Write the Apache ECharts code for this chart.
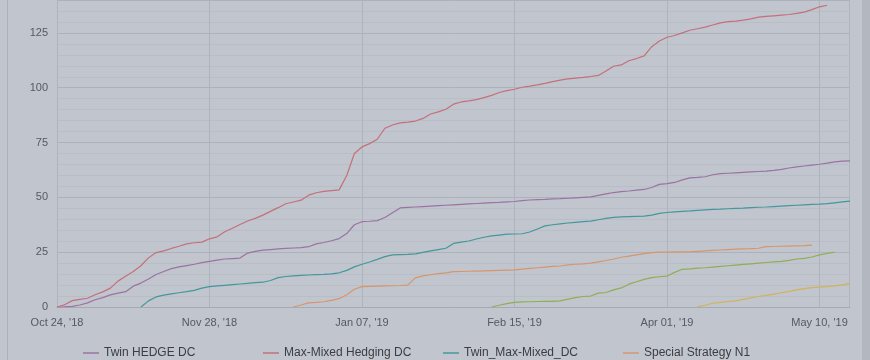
<!DOCTYPE html>
<html><head><meta charset="utf-8">
<script src="https://cdn.jsdelivr.net/npm/echarts@6/dist/echarts.min.js"></script>
<style>html,body{margin:0;padding:0;background:#c1c5cd;}#c{width:870px;height:360px;}</style>
</head><body><div id="c"></div>
<script>
const categories = [
"Oct 24, '18","Oct 26, '18","Oct 28, '18","Oct 29, '18","Oct 31, '18","Nov 02, '18","Nov 04, '18","Nov 05, '18","Nov 07, '18","Nov 09, '18",
"Nov 11, '18","Nov 12, '18","Nov 14, '18","Nov 16, '18","Nov 18, '18","Nov 19, '18","Nov 21, '18","Nov 23, '18","Nov 25, '18","Nov 26, '18",
"Nov 28, '18","Nov 30, '18","Dec 02, '18","Dec 04, '18","Dec 06, '18","Dec 08, '18","Dec 10, '18","Dec 12, '18","Dec 14, '18","Dec 16, '18",
"Dec 18, '18","Dec 20, '18","Dec 22, '18","Dec 24, '18","Dec 26, '18","Dec 28, '18","Dec 30, '18","Jan 01, '19","Jan 03, '19","Jan 05, '19",
"Jan 07, '19","Jan 09, '19","Jan 11, '19","Jan 13, '19","Jan 15, '19","Jan 17, '19","Jan 19, '19","Jan 21, '19","Jan 23, '19","Jan 25, '19",
"Jan 27, '19","Jan 28, '19","Jan 30, '19","Feb 01, '19","Feb 03, '19","Feb 05, '19","Feb 07, '19","Feb 09, '19","Feb 11, '19","Feb 13, '19",
"Feb 15, '19","Feb 17, '19","Feb 19, '19","Feb 22, '19","Feb 24, '19","Feb 26, '19","Feb 28, '19","Mar 03, '19","Mar 05, '19","Mar 07, '19",
"Mar 09, '19","Mar 12, '19","Mar 14, '19","Mar 16, '19","Mar 18, '19","Mar 21, '19","Mar 23, '19","Mar 25, '19","Mar 27, '19","Mar 30, '19",
"Apr 01, '19","Apr 03, '19","Apr 05, '19","Apr 07, '19","Apr 09, '19","Apr 11, '19","Apr 13, '19","Apr 15, '19","Apr 17, '19","Apr 19, '19",
"Apr 21, '19","Apr 22, '19","Apr 24, '19","Apr 26, '19","Apr 28, '19","Apr 30, '19","May 02, '19","May 04, '19","May 06, '19","May 08, '19",
"May 10, '19","May 12, '19","May 14, '19","May 16, '19","May 18, '19"
];
const seriesNames = ["Twin HEDGE DC","Max-Mixed Hedging DC","Twin_Max-Mixed_DC","Special Strategy N1","Special Strategy N2","Special Strategy N3"];

const twinHedge = [
0,0.1,0.3,0.9,1.9,3.3,4.3,5.5,6.3,7.0,
9.5,10.9,12.8,14.8,16.2,17.5,18.3,18.9,19.5,20.2,
20.8,21.4,21.9,22.1,22.3,24.6,25.4,25.9,26.2,26.5,
26.7,26.9,27.1,27.5,28.8,29.4,30.2,31.2,33.5,37.5,
38.9,39.1,39.4,40.8,43.0,45.2,45.4,45.6,45.8,46.0,
46.2,46.4,46.6,46.8,47.0,47.2,47.4,47.6,47.7,47.9,
48.1,48.5,48.8,49.0,49.1,49.3,49.4,49.6,49.8,50.0,
50.2,50.9,51.6,52.2,52.6,52.9,53.3,53.6,54.5,55.9,
56.3,56.8,58.0,58.9,59.1,59.4,60.3,60.8,61.0,61.2,
61.4,61.6,61.8,62.0,62.3,62.8,63.4,63.9,64.3,64.7,
65.1,65.6,66.2,66.5,66.6
];
const maxMixed = [
0,1.0,2.9,3.5,4.0,5.6,6.9,8.6,11.8,14.0,
16.2,18.8,22.4,24.8,25.6,26.7,27.7,28.8,29.3,29.6,
31.1,32.0,34.3,35.9,37.6,39.2,40.4,41.9,43.6,45.3,
47.1,47.9,48.7,51.0,52.1,52.7,53.1,53.4,60.0,70.0,
73.0,74.5,76.5,81.5,83.0,84.0,84.3,84.8,86.0,88.0,
89.0,90.2,92.5,93.5,94.0,94.6,95.5,96.5,97.8,98.7,
99.3,100.2,100.7,101.3,102.0,102.8,103.5,104.0,104.4,104.7,
105.1,105.6,107.6,109.8,110.4,112.3,113.3,114.5,118.7,121.3,
123.0,123.8,125.0,126.2,126.9,127.6,128.6,129.6,130.1,130.4,
130.8,131.4,132.2,132.5,132.8,133.1,133.4,133.9,134.5,135.6,
136.9,137.6,null,null,null
];
const twinMaxMixed = [
null,null,null,null,null,null,null,null,null,null,
null,0,2.8,4.6,5.4,6.0,6.5,7.0,7.6,8.6,
9.3,9.6,9.9,10.2,10.5,10.8,11.1,11.3,12.1,13.4,
13.9,14.2,14.4,14.6,14.8,14.9,15.1,15.6,16.7,18.3,
19.5,20.5,21.7,23.0,23.8,23.9,24.0,24.2,24.9,25.6,
26.2,26.8,29.0,29.6,30.1,31.0,31.8,32.4,32.8,33.2,
33.3,33.4,34.2,35.6,37.0,37.5,37.9,38.3,38.6,38.9,
39.2,39.8,40.4,40.9,41.1,41.2,41.3,41.4,41.9,42.7,
43.1,43.4,43.6,43.8,44.1,44.3,44.5,44.6,44.8,45.0,
45.1,45.3,45.5,45.6,45.8,46.0,46.2,46.4,46.6,46.8,
46.9,47.1,47.5,47.9,48.3
];
const specialN1 = [
null,null,null,null,null,null,null,null,null,null,
null,null,null,null,null,null,null,null,null,null,
null,null,null,null,null,null,null,null,null,null,
null,0,0.9,1.9,2.1,2.4,3.0,3.8,5.6,8.1,
9.3,9.4,9.5,9.6,9.7,9.8,10.0,13.3,14.2,14.7,
15.2,15.6,16.1,16.2,16.3,16.4,16.5,16.6,16.7,16.8,
16.9,17.3,17.6,17.9,18.2,18.5,18.7,19.2,19.5,19.7,
20.0,20.6,21.2,21.9,22.7,23.2,23.8,24.3,24.8,25.0,
25.0,25.1,25.1,25.2,25.4,25.6,25.8,26.0,26.2,26.4,
26.5,26.6,26.8,27.5,27.6,27.7,27.8,27.9,28.0,28.2,
null,null,null,null,null
];
const specialN2 = [
null,null,null,null,null,null,null,null,null,null,
null,null,null,null,null,null,null,null,null,null,
null,null,null,null,null,null,null,null,null,null,
null,null,null,null,null,null,null,null,null,null,
null,null,null,null,null,null,null,null,null,null,
null,null,null,null,null,null,null,0,0.8,1.5,
2.1,2.3,2.4,2.5,2.6,2.6,2.8,3.6,4.3,4.8,
5.0,6.3,6.6,7.8,8.7,10.4,11.5,12.6,13.4,13.8,
14.1,15.8,17.2,17.4,17.7,17.9,18.2,18.5,18.8,19.1,
19.4,19.7,20.0,20.3,20.6,20.8,21.3,21.9,22.2,22.8,
23.8,24.4,25.0,null,null
];
const specialN3 = [
null,null,null,null,null,null,null,null,null,null,
null,null,null,null,null,null,null,null,null,null,
null,null,null,null,null,null,null,null,null,null,
null,null,null,null,null,null,null,null,null,null,
null,null,null,null,null,null,null,null,null,null,
null,null,null,null,null,null,null,null,null,null,
null,null,null,null,null,null,null,null,null,null,
null,null,null,null,null,null,null,null,null,null,
null,null,null,null,0.2,0.8,1.7,2.1,2.5,2.8,
3.5,4.2,4.8,5.3,5.9,6.5,7.1,7.8,8.4,8.8,
9.1,9.3,9.6,10.1,10.8
];
const yTicks = [0,25,50,75,100,125];

const colors = ['#9a73a3','#c2717c','#44979b','#d6966c','#8fae55','#d2b25a'];
const allData = [twinHedge, maxMixed, twinMaxMixed, specialN1, specialN2, specialN3];

const chart = echarts.init(document.getElementById('c'), null, {renderer:'canvas'});
chart.setOption({
  backgroundColor: '#c1c5cd',
  animation: false,
  color: colors,
  textStyle: {fontFamily: 'Liberation Sans, Arial, sans-serif'},
  grid: {left: 57, right: 20, top: 0, bottom: 53, show: false},
  legend: {
    left: 78, top: 342, itemWidth: 16, itemHeight: 8, itemGap: 4,
    icon: 'path://M0,4L16,4L16,5.5L0,5.5Z',
    formatter: n => '{t|' + n + '}',
    textStyle: {color: '#3a3d44', fontSize: 12,
      rich: {t: {width: 155, fontSize: 12, lineHeight: 16, color: '#3a3d44', fontFamily: 'Liberation Sans, Arial, sans-serif'}}},
    data: seriesNames
  },
  graphic: [
    {type:'rect', shape:{x:7, y:0, width:1, height:360}, style:{fill:'#acb0b8'}, silent:true},
    {type:'rect', shape:{x:862, y:0, width:8, height:360}, style:{fill:'#b3b7bf'}, silent:true},
    {type:'rect', shape:{x:849, y:0, width:1, height:307}, style:{fill:'#afb3bb'}, silent:true}
  ],
  xAxis: {
    type: 'category', data: categories, boundaryGap: false,
    axisLine: {show: true, lineStyle: {color: '#a6aab3'}},
    axisTick: {show: false},
    axisLabel: {interval: 19, color: '#555960', fontSize: 11, margin: 10},
    splitLine: {show: true, interval: 19, lineStyle: {color: '#afb3bb', width: 1}}
  },
  yAxis: {
    type: 'value', min: 0, max: 140, interval: 25,
    axisLine: {show: true, lineStyle: {color: '#afb3bb'}},
    axisTick: {show: false},
    axisLabel: {color: '#555960', fontSize: 11, margin: 9,
      formatter: v => yTicks.indexOf(v) >= 0 ? String(v) : ''},
    splitLine: {show: true, lineStyle: {color: '#adb1b9', width: 1}},
    minorTick: {show: false, splitNumber: 5},
    minorSplitLine: {show: true, lineStyle: {color: '#b9bdc5', width: 1}}
  },
  series: seriesNames.map((n, k) => ({
    name: n, type: 'line', data: allData[k], showSymbol: false, symbol: 'none',
    connectNulls: false,
    lineStyle: {width: 1.2, color: colors[k]},
    itemStyle: {color: colors[k]}
  }))
});
</script></body></html>
